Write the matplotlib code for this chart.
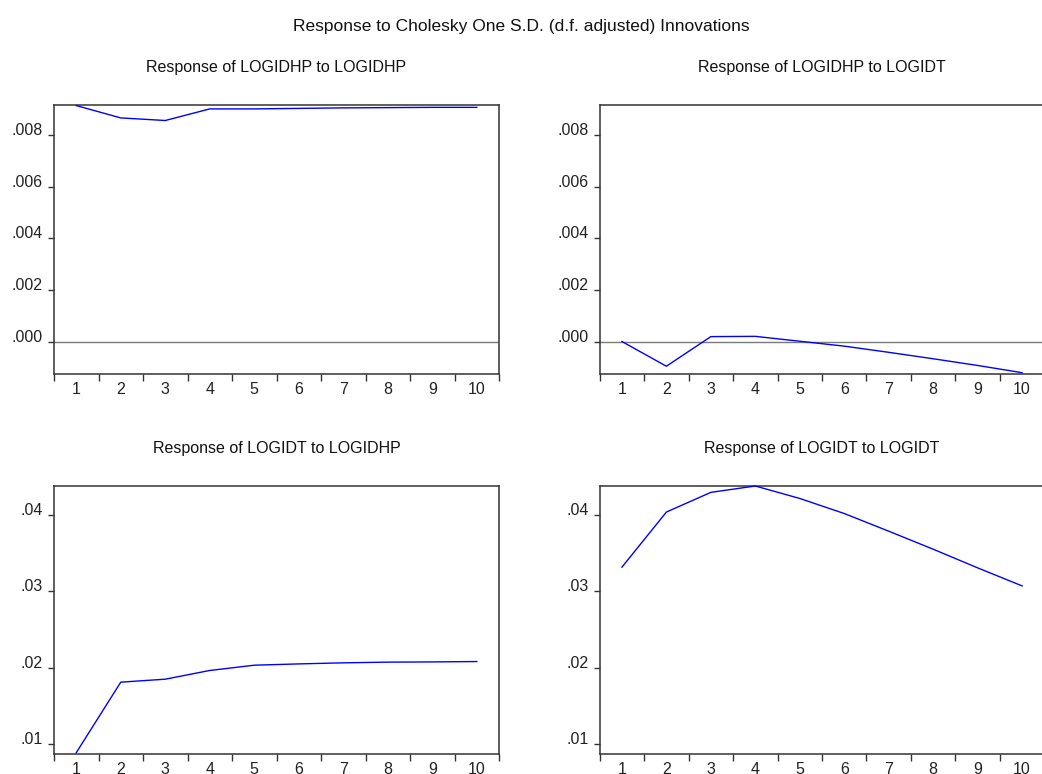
import matplotlib
matplotlib.use("Agg")
import matplotlib.pyplot as plt
from matplotlib.ticker import FixedLocator, FixedFormatter

plt.rcParams['font.family'] = ['Liberation Sans', 'DejaVu Sans']

periods = list(range(1, 11))

# responses
hp_to_hp = [0.00916, 0.00868, 0.00858, 0.00903, 0.00903, 0.00905, 0.00907, 0.00908, 0.00909, 0.00909]
hp_to_t = [0.0, -0.00096, 0.00019, 0.00020, 0.00001, -0.00018, -0.00042, -0.00067, -0.00093, -0.00121]
t_to_hp = [0.0089, 0.01813, 0.01852, 0.01966, 0.02035, 0.02052, 0.02066, 0.02075, 0.02078, 0.02083]
t_to_t = [0.03318, 0.04039, 0.04297, 0.04380, 0.04217, 0.04020, 0.03789, 0.03553, 0.03309, 0.03073]

top_ticks = [0.0, 0.002, 0.004, 0.006, 0.008]
top_labels = [".000", ".002", ".004", ".006", ".008"]
bot_ticks = [0.01, 0.02, 0.03, 0.04]
bot_labels = [".01", ".02", ".03", ".04"]

main_title = "Response to Cholesky One S.D. (d.f. adjusted) Innovations"
titles = ["Response of LOGIDHP to LOGIDHP", "Response of LOGIDHP to LOGIDT",
          "Response of LOGIDT to LOGIDHP", "Response of LOGIDT to LOGIDT"]

W, H = 1042, 774
fig = plt.figure(figsize=(W / 100, H / 100), dpi=100)


def px_axes(left, top, right, bottom):
    return fig.add_axes([left / W, 1 - bottom / H, (right - left) / W, (bottom - top) / H])


def style(ax, ticks, labels, lo, hi):
    ax.set_xlim(0.5, 10.5)
    ax.set_ylim(lo, hi)
    ax.xaxis.set_major_locator(FixedLocator(periods))
    ax.xaxis.set_major_formatter(FixedFormatter([str(p) for p in periods]))
    ax.xaxis.set_minor_locator(FixedLocator([p + 0.5 for p in range(0, 11)]))
    ax.tick_params(axis='x', which='major', length=0, pad=6, labelsize=11.5, colors='#222222')
    ax.tick_params(axis='x', which='minor', length=5, width=1, direction='out', color='#333333')
    ax.yaxis.set_major_locator(FixedLocator(ticks))
    ax.yaxis.set_major_formatter(FixedFormatter(labels))
    ax.tick_params(axis='y', length=4, width=1, direction='out', pad=4, labelsize=11.5,
                   color='#333333', labelcolor='#222222')
    for lab in ax.get_yticklabels():
        lab.set_verticalalignment('baseline')
    for s in ax.spines.values():
        s.set_color('#333333')
        s.set_linewidth(1.1)
    ax.axhline(0, color='#7a7a7a', lw=1.0, zorder=1)


lo_top = min(hp_to_hp + hp_to_t) - 0.00004
hi_top = max(hp_to_hp + hp_to_t) + 0.00001
lo_bot = min(t_to_hp + t_to_t) - 0.00017
hi_bot = max(t_to_hp + t_to_t) + 0.00004

layout = [
    (54, 105.3, 499, 373.7, hp_to_hp, top_ticks, top_labels, lo_top, hi_top),
    (599.7, 105.3, 1044.3, 373.7, hp_to_t, top_ticks, top_labels, lo_top, hi_top),
    (54, 485.7, 499, 754, t_to_hp, bot_ticks, bot_labels, lo_bot, hi_bot),
    (599.7, 485.7, 1044.3, 754, t_to_t, bot_ticks, bot_labels, lo_bot, hi_bot),
]

for i, (l, t, r, b, vals, tk, tl, lo, hi) in enumerate(layout):
    ax = px_axes(l, t, r, b)
    ax.plot(periods, vals, color='#0000ff', lw=1.0, zorder=3, clip_on=False)
    style(ax, tk, tl, lo, hi)
    fig.text((l + r) / 2 / W, 1 - (t - 33) / H, titles[i], ha='center', va='baseline',
             fontsize=11.5, color='#111111')

fig.text(521 / W, 1 - 31 / H, main_title, ha='center', va='baseline', fontsize=12.5, color='#111111')

fig.savefig("out.png", dpi=100)
